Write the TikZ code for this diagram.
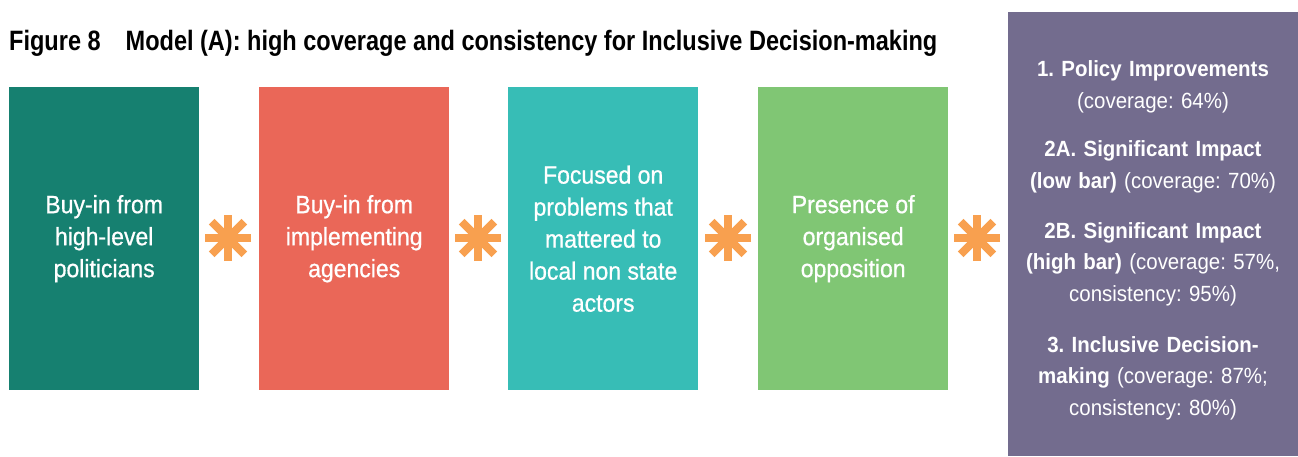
\documentclass[tikz,border=0pt]{standalone}
\usepackage{fontspec}
\usetikzlibrary{calc}
\setmainfont{Liberation Sans}[FakeStretch=0.93]
\newfontfamily\titlefont{Liberation Sans}[FakeStretch=0.84]
\newfontfamily\boxfont{Liberation Sans}[FakeStretch=0.92,FakeBold=0.7]
\definecolor{cteal}{HTML}{168070}
\definecolor{cred}{HTML}{EA6758}
\definecolor{cturq}{HTML}{37BDB6}
\definecolor{cgreen}{HTML}{80C674}
\definecolor{cpurple}{HTML}{736C8E}
\definecolor{corange}{HTML}{F8A04F}
\begin{document}
\frenchspacing
\begin{tikzpicture}[x=1pt,y=-1pt,
  factor/.style={minimum width=190pt,minimum height=303pt,inner sep=0pt,anchor=north west,text=white,
    font=\boxfont\fontsize{25}{32}\selectfont,align=center},
  outcome/.style={text=white,font=\fontsize{22}{31.5}\selectfont,align=center,text width=280pt,inner sep=0pt},
  star/.style={corange,line width=8pt}]
\useasboundingbox (0,0) rectangle (1298,456);
\fill[white] (0,0) rectangle (1298,456);
\node[anchor=base west,inner sep=0pt,font=\titlefont\fontsize{28}{30}\selectfont\bfseries] (title) at (9,50) {Figure 8\hspace{25pt}Model (A): high coverage and consistency for Inclusive Decision-making};
\node[factor,fill=cteal] (f1) at (9,87) {Buy-in from\\high-level\\politicians};
\node[factor,fill=cred] (f2) at (259,87) {Buy-in from\\implementing\\agencies};
\node[factor,fill=cturq] (f3) at (508,87) {Focused on\\problems that\\mattered to\\local non state\\actors};
\node[factor,fill=cgreen] (f4) at (758,87) {Presence of\\organised\\opposition};
\node[fill=cpurple,minimum width=290pt,minimum height=444pt,inner sep=0pt,anchor=north west] (panel) at (1008,12) {};
\foreach \cx/\nm in {228/s1,478/s2,728/s3,977/s4}{
  \coordinate (\nm) at (\cx,238);
  \foreach \a in {0,45,90,135}{
    \draw[star] ($(\nm)+(\a:23)$) -- ($(\nm)+(\a+180:23)$);
  }
}
\node[outcome] (o1) at (1153,87) {\textbf{1. Policy Improvements}\\(coverage: 64\%)};
\node[outcome] (o2) at (1153,167) {\textbf{2A. Significant Impact}\\\textbf{(low bar)} (coverage: 70\%)};
\node[outcome] (o3) at (1153,264) {\textbf{2B. Significant Impact}\\\textbf{(high bar)} (coverage: 57\%,\\consistency: 95\%)};
\node[outcome] (o4) at (1153,378) {\textbf{3. Inclusive Decision-}\\\textbf{making} (coverage: 87\%;\\consistency: 80\%)};
\end{tikzpicture}
\end{document}
